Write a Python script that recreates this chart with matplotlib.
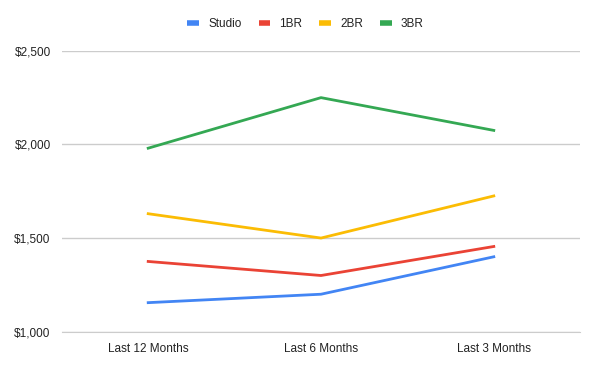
import matplotlib.pyplot as plt

periods = ['Last 12 Months', 'Last 6 Months', 'Last 3 Months']
studio = [1155, 1200, 1400]
br1 = [1375, 1300, 1455]
br2 = [1630, 1500, 1725]
br3 = [1980, 2250, 2075]

plt.rcParams['font.family'] = ['Liberation Sans', 'DejaVu Sans']

fig = plt.figure(figsize=(6, 3.71), dpi=100)
ax = fig.add_axes([0.103, 0.106, 0.864, 0.757])

x = range(len(periods))
ax.plot(x, studio, color='#4285F4', lw=2, label='Studio')
ax.plot(x, br1, color='#EA4335', lw=2, label='1BR')
ax.plot(x, br2, color='#FBBC04', lw=2, label='2BR')
ax.plot(x, br3, color='#34A853', lw=2, label='3BR')

ax.set_xlim(-0.5, 2.5)
ax.set_ylim(1000, 2500)
ax.set_yticks([1000, 1500, 2000, 2500])
ax.set_yticklabels(['$1,000', '$1,500', '$2,000', '$2,500'])
ax.set_xticks(list(x))
ax.set_xticklabels(periods)
ax.grid(axis='y', color='#cccccc', lw=1)
ax.set_axisbelow(True)
for s in ['top', 'right', 'left']:
    ax.spines[s].set_visible(False)
ax.spines['bottom'].set_color('#cccccc')
ax.tick_params(length=0, labelsize=8.5, colors='#222222')
ax.tick_params(axis='y', pad=8)
ax.tick_params(axis='x', pad=8)

ax.legend(loc='center', bbox_to_anchor=(0.47, 1.095), ncol=4, frameon=False,
          fontsize=8.5, handlelength=1.0, handletextpad=0.75, columnspacing=1.45,
          labelcolor='#222222')
for h in ax.get_legend().get_lines():
    h.set_linewidth(4)
    h.set_solid_capstyle('butt')

fig.savefig('out.png', dpi=100)
